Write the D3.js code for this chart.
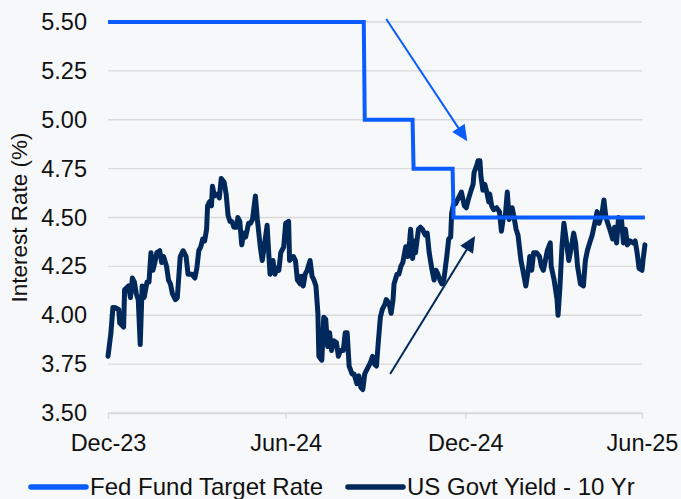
<!DOCTYPE html>
<html>
<head>
<meta charset="utf-8">
<script src="https://cdn.jsdelivr.net/npm/d3@7"></script>
<style>
  html, body { margin: 0; padding: 0; background: #f7f8fa; }
  svg { display: block; font-family: "Liberation Sans", Arial, sans-serif; }
</style>
</head>
<body>
<svg id="chart" width="681" height="499"></svg>
<script>
// --- data ---
const fedDates = ["2023-12-31", "2024-09-18", "2024-09-19", "2024-11-07", "2024-11-08", "2024-12-18", "2024-12-19", "2025-07-03"];
const fedValues = [5.50, 5.50, 5.00, 5.00, 4.75, 4.75, 4.50, 4.50];

const yieldDates = [
  "2023-12-31","2024-01-02","2024-01-03","2024-01-05","2024-01-07","2024-01-11","2024-01-12","2024-01-16","2024-01-17","2024-01-21",
  "2024-01-23","2024-01-25","2024-01-27","2024-01-29","2024-01-31","2024-02-02","2024-02-04","2024-02-06","2024-02-09","2024-02-11",
  "2024-02-13","2024-02-15","2024-02-17","2024-02-19","2024-02-22","2024-02-24","2024-02-26","2024-02-29","2024-03-02","2024-03-04",
  "2024-03-06","2024-03-09","2024-03-11","2024-03-14","2024-03-17","2024-03-20","2024-03-22","2024-03-26","2024-03-29","2024-03-31",
  "2024-04-02","2024-04-04","2024-04-06","2024-04-08","2024-04-10","2024-04-11","2024-04-13","2024-04-15","2024-04-16","2024-04-18",
  "2024-04-21","2024-04-23","2024-04-25","2024-04-28","2024-04-30","2024-05-02","2024-05-04","2024-05-06","2024-05-08","2024-05-11",
  "2024-05-12","2024-05-14","2024-05-16","2024-05-18","2024-05-20","2024-05-23","2024-05-25","2024-05-27","2024-05-30","2024-06-01",
  "2024-06-04","2024-06-06","2024-06-08","2024-06-11","2024-06-12","2024-06-14","2024-06-17","2024-06-19","2024-06-21","2024-06-23",
  "2024-06-25","2024-06-28","2024-06-30","2024-07-03","2024-07-04","2024-07-08","2024-07-10","2024-07-12","2024-07-15","2024-07-16",
  "2024-07-18","2024-07-20","2024-07-22","2024-07-25","2024-07-27","2024-07-29","2024-07-31","2024-08-02","2024-08-03","2024-08-06",
  "2024-08-08","2024-08-10","2024-08-12","2024-08-14","2024-08-16","2024-08-18","2024-08-21","2024-08-23","2024-08-25","2024-08-28",
  "2024-08-30","2024-09-01","2024-09-03","2024-09-06","2024-09-08","2024-09-11","2024-09-13","2024-09-15","2024-09-17","2024-09-19",
  "2024-09-21","2024-09-23","2024-09-25","2024-09-27","2024-09-29","2024-10-01","2024-10-03","2024-10-05","2024-10-07","2024-10-10",
  "2024-10-11","2024-10-14","2024-10-16","2024-10-18","2024-10-19","2024-10-22","2024-10-24","2024-10-26","2024-10-28","2024-10-31",
  "2024-11-02","2024-11-04","2024-11-05","2024-11-07","2024-11-09","2024-11-10","2024-11-13","2024-11-15","2024-11-17","2024-11-20",
  "2024-11-22","2024-11-24","2024-11-27","2024-11-29","2024-12-01","2024-12-03","2024-12-05","2024-12-07","2024-12-09","2024-12-12",
  "2024-12-14","2024-12-16","2024-12-17","2024-12-19","2024-12-21","2024-12-23","2024-12-26","2024-12-27","2024-12-30","2025-01-01",
  "2025-01-03","2025-01-06","2025-01-08","2025-01-09","2025-01-12","2025-01-13","2025-01-15","2025-01-16","2025-01-18","2025-01-20",
  "2025-01-22","2025-01-24","2025-01-25","2025-01-27","2025-01-29","2025-02-01","2025-02-04","2025-02-06","2025-02-08","2025-02-10",
  "2025-02-12","2025-02-14","2025-02-17","2025-02-19","2025-02-21","2025-02-23","2025-02-26","2025-02-28","2025-03-03","2025-03-06",
  "2025-03-07","2025-03-09","2025-03-11","2025-03-14","2025-03-17","2025-03-19","2025-03-21","2025-03-23","2025-03-25","2025-03-28",
  "2025-03-29","2025-04-01","2025-04-04","2025-04-05","2025-04-07","2025-04-09","2025-04-11","2025-04-13","2025-04-16","2025-04-18",
  "2025-04-21","2025-04-23","2025-04-25","2025-04-28","2025-05-01","2025-05-03","2025-05-05","2025-05-08","2025-05-10","2025-05-13",
  "2025-05-15","2025-05-17","2025-05-20","2025-05-22","2025-05-24","2025-05-26","2025-05-28","2025-05-31","2025-06-02","2025-06-04",
  "2025-06-06","2025-06-09","2025-06-11","2025-06-13","2025-06-15","2025-06-18","2025-06-21","2025-06-23","2025-06-25","2025-06-27",
  "2025-06-30","2025-07-01","2025-07-03"
];
const yieldValues = [
  3.79,3.87,3.91,4.04,4.04,4.03,3.96,3.94,4.13,4.15,
  4.09,4.19,4.17,4.11,4.08,3.85,4.15,4.09,4.17,4.17,
  4.32,4.23,4.27,4.32,4.33,4.27,4.30,4.25,4.18,4.16,
  4.11,4.08,4.09,4.30,4.33,4.30,4.21,4.21,4.19,4.24,
  4.33,4.35,4.39,4.38,4.44,4.56,4.58,4.56,4.66,4.61,
  4.62,4.60,4.70,4.68,4.62,4.51,4.48,4.48,4.45,4.45,
  4.50,4.48,4.36,4.42,4.40,4.47,4.47,4.49,4.61,4.49,
  4.35,4.28,4.35,4.46,4.37,4.21,4.28,4.21,4.24,4.23,
  4.32,4.35,4.47,4.48,4.28,4.30,4.28,4.18,4.16,4.20,
  4.15,4.21,4.23,4.28,4.20,4.18,4.15,4.01,3.79,3.77,
  3.99,3.98,3.84,3.91,3.82,3.87,3.86,3.79,3.82,3.82,
  3.91,3.91,3.74,3.70,3.70,3.65,3.69,3.63,3.62,3.70,
  3.72,3.74,3.76,3.79,3.75,3.74,3.87,3.99,4.03,4.06,
  4.08,4.06,4.01,4.08,4.16,4.21,4.21,4.25,4.27,4.35,
  4.30,4.38,4.44,4.29,4.38,4.32,4.44,4.45,4.44,4.41,
  4.42,4.32,4.23,4.18,4.23,4.21,4.18,4.16,4.18,4.30,
  4.39,4.40,4.52,4.57,4.57,4.59,4.62,4.63,4.56,4.55,
  4.59,4.64,4.67,4.73,4.77,4.79,4.79,4.71,4.64,4.67,
  4.63,4.58,4.62,4.56,4.54,4.55,4.53,4.43,4.50,4.51,
  4.63,4.49,4.55,4.50,4.44,4.41,4.28,4.23,4.15,4.25,
  4.30,4.23,4.32,4.32,4.30,4.25,4.23,4.28,4.33,4.37,
  4.25,4.18,4.08,4.00,4.15,4.35,4.47,4.40,4.28,4.33,
  4.42,4.37,4.25,4.16,4.15,4.28,4.33,4.38,4.41,4.48,
  4.53,4.47,4.52,4.59,4.50,4.47,4.44,4.39,4.45,4.37,
  4.50,4.49,4.37,4.44,4.36,4.38,4.37,4.38,4.32,4.24,
  4.23,4.28,4.36
];

const yTicks = [3.50, 3.75, 4.00, 4.25, 4.50, 4.75, 5.00, 5.25, 5.50];
const xTickDates = ["2023-12-31", "2024-06-30", "2024-12-31", "2025-06-30"];
const seriesNames = ["Fed Fund Target Rate", "US Govt Yield - 10 Yr"];
const seriesColors = ["#0a5cff", "#00285a"];

// annotation arrows: [from date, from value, to date, to value]
const arrows = [
  { from: ["2024-10-11", 5.515], to: ["2025-01-02", 4.89], color: seriesColors[0] },
  { from: ["2024-10-15", 3.70], to: ["2025-01-10", 4.405], color: seriesColors[1] }
];

// --- drawing ---
const parse = d3.timeParse("%Y-%m-%d");
const svg = d3.select("#chart");

const plotLeft = 108, plotRight = 642, plotTop = 22, plotBottom = 413;

const x = d3.scaleTime()
    .domain([parse("2023-12-31"), parse("2025-06-30")])
    .range([plotLeft, plotRight]);

const y = d3.scaleLinear()
    .domain([3.5, 5.5])
    .range([plotBottom, plotTop]);

const fed = fedDates.map((d, i) => ({date: parse(d), value: fedValues[i]}));
const tenYr = yieldDates.map((d, i) => ({date: parse(d), value: yieldValues[i]}));

// gridlines
svg.append("g")
    .selectAll("line")
    .data(yTicks)
    .join("line")
    .attr("x1", plotLeft)
    .attr("x2", plotRight)
    .attr("y1", d => y(d))
    .attr("y2", d => y(d))
    .attr("stroke", "#d9d9d9")
    .attr("stroke-width", 1.3);

// x axis
const xAxis = svg.append("g")
    .attr("transform", "translate(0," + plotBottom + ")")
    .call(d3.axisBottom(x)
        .tickValues(xTickDates.map(parse))
        .tickFormat(d3.timeFormat("%b-%y"))
        .tickSize(6)
        .tickSizeOuter(0)
        .tickPadding(15));
xAxis.select(".domain").attr("stroke", "#d9d9d9").attr("stroke-width", 1.3);
xAxis.selectAll(".tick line").attr("stroke", "#d9d9d9").attr("stroke-width", 1.3);
xAxis.selectAll("text")
    .attr("fill", "#111")
    .style("font-size", "23.5px")
    .style("font-family", "Liberation Sans, Arial, sans-serif");

// y axis
const yAxis = svg.append("g")
    .attr("transform", "translate(" + plotLeft + ",0)")
    .call(d3.axisLeft(y)
        .tickValues(yTicks)
        .tickFormat(d3.format(".2f"))
        .tickSize(0)
        .tickPadding(21));
yAxis.select(".domain").remove();
yAxis.selectAll("text")
    .attr("fill", "#111")
    .style("font-size", "23.5px")
    .style("font-family", "Liberation Sans, Arial, sans-serif");

svg.append("text")
    .attr("transform", "translate(27," + ((plotTop + plotBottom) / 2) + ") rotate(-90)")
    .attr("text-anchor", "middle")
    .attr("fill", "#111")
    .style("font-size", "22.5px")
    .text("Interest Rate (%)");

// lines
const line = d3.line()
    .x(d => x(d.date))
    .y(d => y(d.value));

svg.append("path")
    .datum(tenYr)
    .attr("fill", "none")
    .attr("stroke", seriesColors[1])
    .attr("stroke-width", 5)
    .attr("stroke-linejoin", "round")
    .attr("stroke-linecap", "round")
    .attr("d", line);

svg.append("path")
    .datum(fed)
    .attr("fill", "none")
    .attr("stroke", seriesColors[0])
    .attr("stroke-width", 4)
    .attr("stroke-linejoin", "miter")
    .attr("d", line);

// arrows
const headLen = 16, headHalf = 7.5;
arrows.forEach(a => {
    const x1 = x(parse(a.from[0])), y1 = y(a.from[1]);
    const x2 = x(parse(a.to[0])), y2 = y(a.to[1]);
    const len = Math.hypot(x2 - x1, y2 - y1);
    const ux = (x2 - x1) / len, uy = (y2 - y1) / len;
    const bx = x2 - ux * headLen, by = y2 - uy * headLen;

    svg.append("line")
        .attr("x1", x1).attr("y1", y1)
        .attr("x2", bx + ux * 2).attr("y2", by + uy * 2)
        .attr("stroke", a.color)
        .attr("stroke-width", 2);

    svg.append("path")
        .attr("d", "M" + x2 + "," + y2 +
            "L" + (bx - uy * headHalf) + "," + (by + ux * headHalf) +
            "L" + (bx + uy * headHalf) + "," + (by - ux * headHalf) + "Z")
        .attr("fill", a.color);
});

// legend
const legendX = [31, 348];
const legend = svg.append("g")
    .selectAll("g")
    .data(seriesNames)
    .join("g")
    .attr("transform", (d, i) => "translate(" + legendX[i] + ",487)");

legend.append("line")
    .attr("x1", 0)
    .attr("x2", 55)
    .attr("stroke", (d, i) => seriesColors[i])
    .attr("stroke-width", 5.5)
    .attr("stroke-linecap", "round");

legend.append("text")
    .attr("x", 59)
    .attr("y", 8)
    .attr("fill", "#111")
    .style("font-size", "24px")
    .text(d => d);
</script>
</body>
</html>
